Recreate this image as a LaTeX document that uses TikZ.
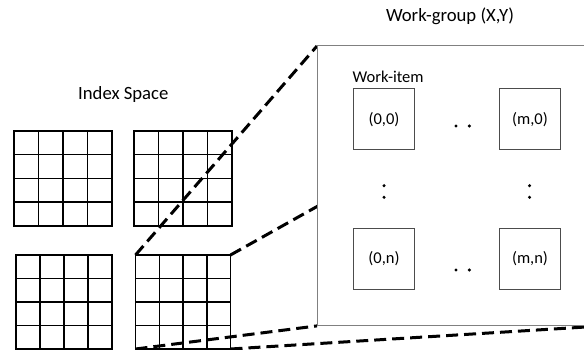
\documentclass[tikz,border=0pt]{standalone}
\usepackage{fontspec}
\setmainfont{Carlito}
\usetikzlibrary{calc}
\begin{document}
\begin{tikzpicture}[x=1pt,y=-1pt,
  cellgrid/.style={draw=black, line width=1.5pt},
  zoomline/.style={draw=black, line width=3pt, dash pattern=on 12pt off 6pt},
  groupbox/.style={draw=black!50, line width=1pt, fill=white},
  itembox/.style={draw=black!70, line width=1pt, minimum size=61pt, inner sep=0pt,
                  font=\fontsize{16.5}{20}\selectfont},
  title/.style={font=\fontsize{18.7}{22}\selectfont, anchor=base, inner sep=0pt},
  caption/.style={font=\fontsize{16.5}{20}\selectfont, anchor=base west, inner sep=0pt},
  dotmark/.style={fill=black, circle, inner sep=0pt, minimum size=3.4pt}
]
\useasboundingbox (0,0) rectangle (584,350);
\clip (0,0) rectangle (584,350);

% the four 4x4 blocks of the index space
\foreach \n/\xa/\ya/\xb/\yb in {tl/14/131/112/226, tr/134/131/232/226,
                                bl/16/255/112/349, br/135.5/255/230.5/349}{
  \path (\xa,\ya) coordinate (\n-nw) (\xb,\ya) coordinate (\n-ne)
        (\xa,\yb) coordinate (\n-sw) (\xb,\yb) coordinate (\n-se);
  \draw[cellgrid] (\n-nw) rectangle (\n-se);
  \foreach \k in {1,2,3}{
    \draw[cellgrid] ($(\n-nw)!\k/4!(\n-ne)$) -- ($(\n-sw)!\k/4!(\n-se)$);
    \draw[cellgrid] ($(\n-nw)!\k/4!(\n-sw)$) -- ($(\n-ne)!\k/4!(\n-se)$);
  }
}

\node[title] (space) at (123.3,100) {Index Space};

% outline of the enlarged work-group (placed first, drawn after the lines)
\path node[inner sep=0pt, anchor=north west, minimum width=286pt, minimum height=279.5pt]
  (wg) at (317,46) {};

% projection lines from the selected block to the work-group
\draw[zoomline] (br-nw) -- (wg.north west);
\draw[zoomline] (br-ne) -- (wg.north east);
\draw[zoomline] (br-sw) -- (wg.south west);
\draw[zoomline] (br-se) -- (wg.south east);

% the work-group itself hides the far part of the lines
\draw[groupbox] (wg.north west) rectangle (wg.south east);
\node[title] (wgtitle) at (450,22) {Work-group (X,Y)};

% work-items
\node[itembox] (i00) at (384,119.5) {(0,0)};
\node[itembox] (im0) at (530,119.5) {(m,0)};
\node[itembox] (i0n) at (384,258.5) {(0,n)};
\node[itembox] (imn) at (530,258.5) {(m,n)};
\node[caption] (witem) at (352.5,83) {Work-item};

% ellipsis marks between the work-items
\node[dotmark] (h1a) at (456,126) {};
\node[dotmark] (h1b) at (469.3,126) {};
\node[dotmark] (h2a) at (456,270) {};
\node[dotmark] (h2b) at (469.3,270) {};
\node[dotmark] (v1a) at (384,185.7) {};
\node[dotmark] (v1b) at (384,197.3) {};
\node[dotmark] (v2a) at (529.5,185.7) {};
\node[dotmark] (v2b) at (529.5,197.3) {};
\end{tikzpicture}
\end{document}
